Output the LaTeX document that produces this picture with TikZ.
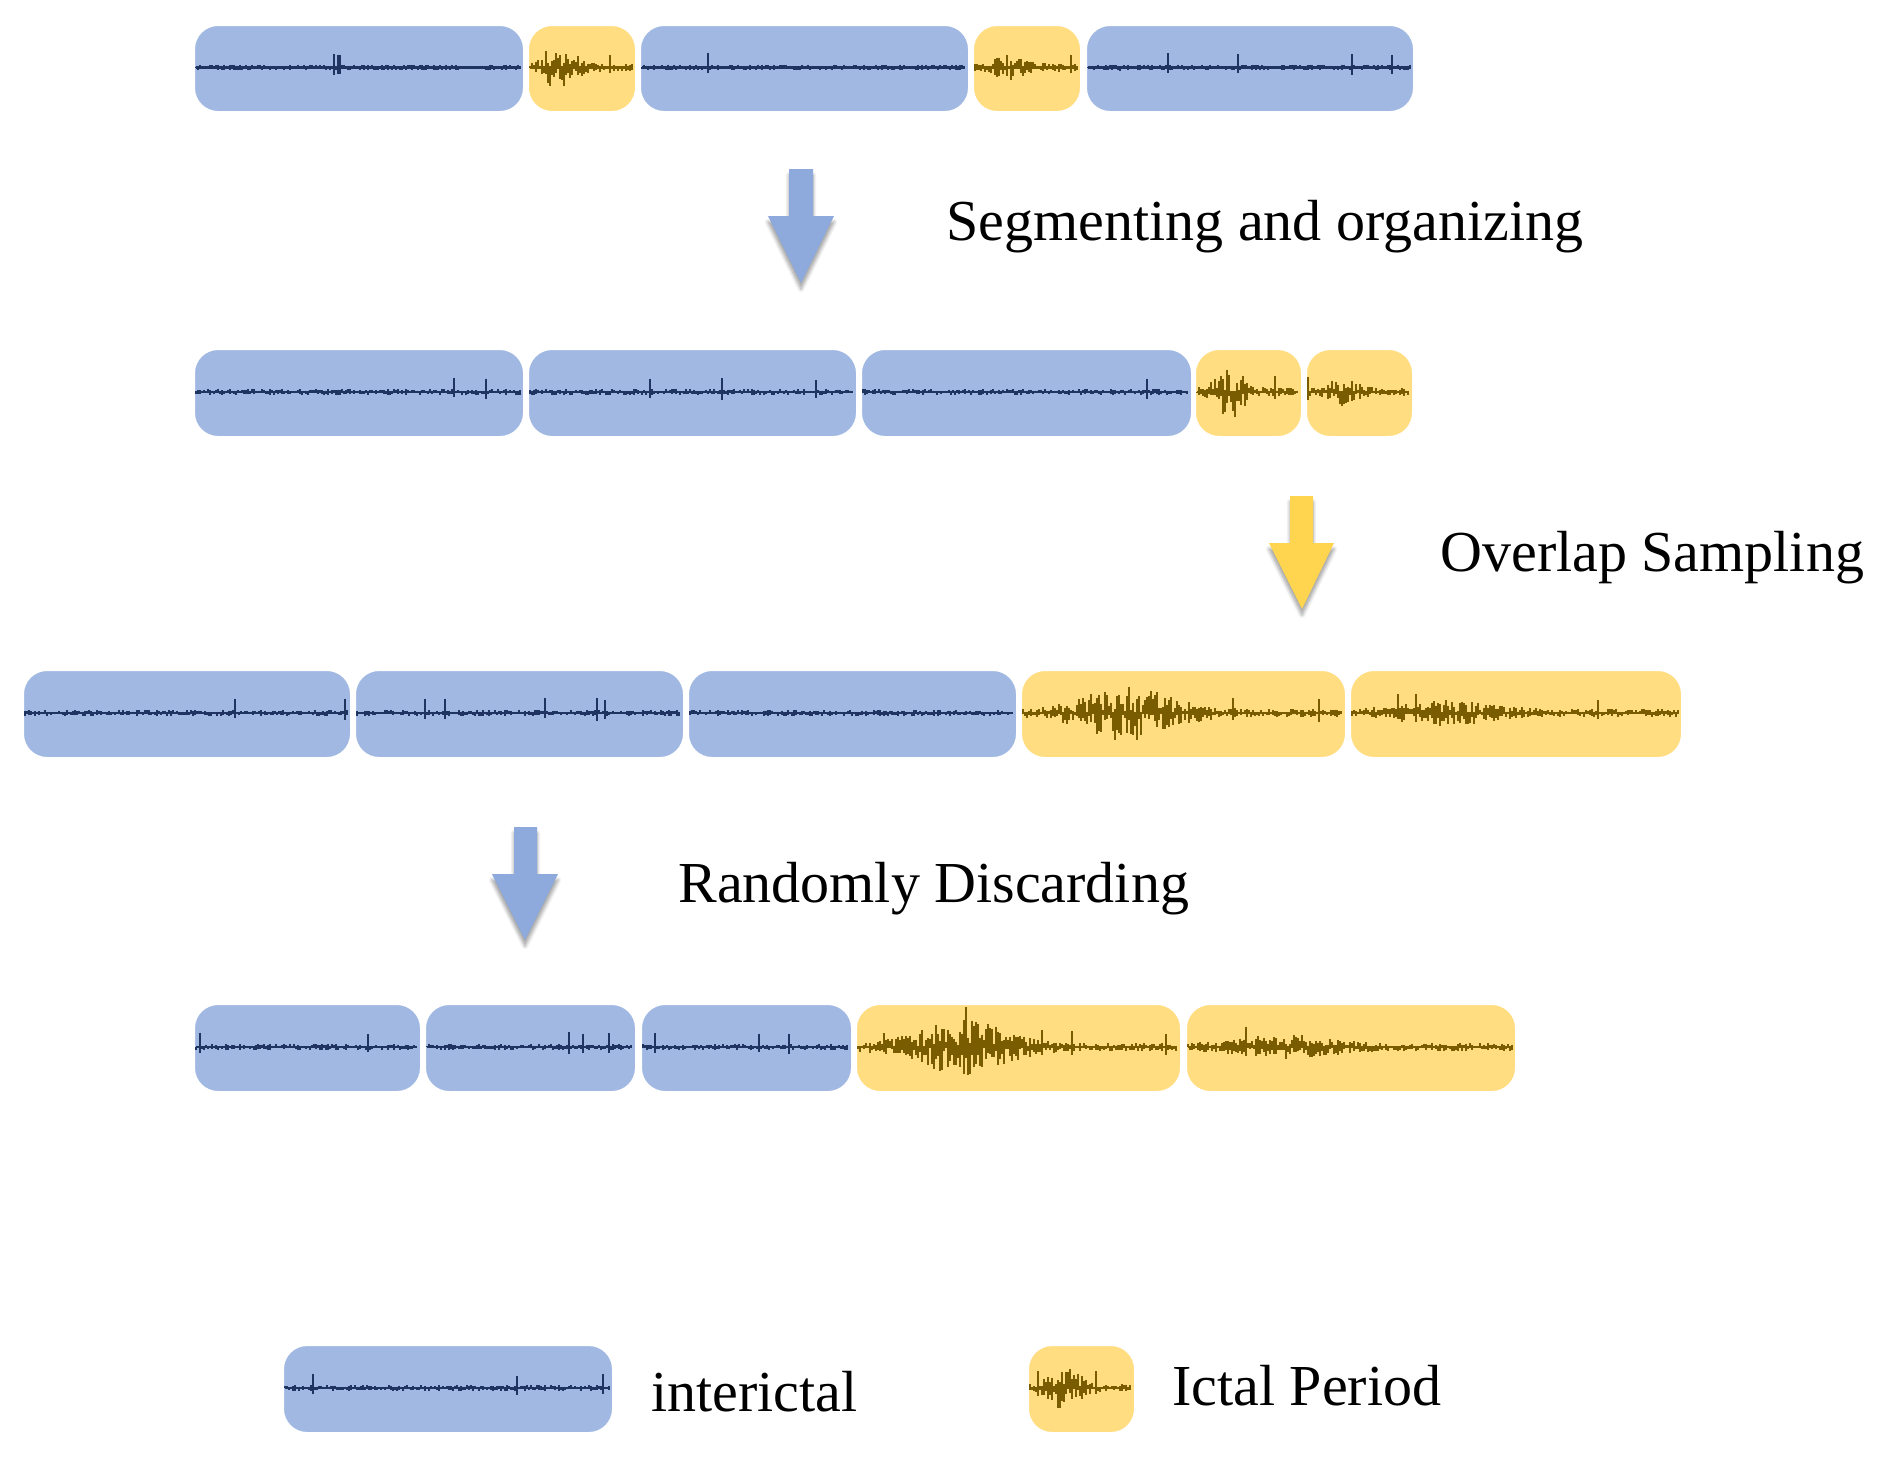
\documentclass[tikz,border=0pt]{standalone}
\usepackage{fontspec}
\setmainfont{Liberation Serif}
\usetikzlibrary{shadows.blur}
\definecolor{bfill}{HTML}{A1B9E2}
\definecolor{yfill}{HTML}{FFDD80}
\definecolor{bwave}{HTML}{1F3460}
\definecolor{ywave}{HTML}{7A5C00}
\definecolor{barrow}{HTML}{8EA9DB}
\definecolor{yarrow}{HTML}{FFD54F}
\tikzset{
 seg/.style={draw=white,line width=1pt,rounded corners=12pt,anchor=north west,inner sep=0pt},
 bseg/.style={seg,fill=bfill},
 yseg/.style={seg,fill=yfill},
 lbl/.style={font=\fontsize{29pt}{34pt}\selectfont,anchor=west,inner sep=0pt},
 arr/.style={blur shadow={shadow xshift=0pt,shadow yshift=-3pt,shadow blur steps=6}}
}
\newcommand\segbox[6]{% name,x1,x2,ytop,ybot,style
 \node[#6,minimum width={(#3-#2)*0.5pt},minimum height={(#5-#4)*0.5pt}] (#1) at (#2,#4) {};}
\newcommand\wave[7]{% x1,x2,yc,col,peakfrac,peakamp,base
 \pgfmathsetmacro\yc{#3}%
 \pgfmathsetmacro\xa{#1+3}\pgfmathsetmacro\xb{#1+5}\pgfmathsetmacro\xe{#2-3}%
 \draw[#4,line width=1.2pt] (\xa,\yc) -- (\xe,\yc);
 \foreach \x in {\xa,\xb,...,\xe}{
   \pgfmathsetmacro\env{#7+#6*exp(-(((\x-#1)/(#2-#1)-#5)^2)/0.03)}%
   \pgfmathsetmacro\sp{rnd>0.985 ? 12 : 0}%
   \pgfmathsetmacro\ya{\yc-\env*rnd-\sp}\pgfmathsetmacro\yb{\yc+\env*rnd+0.4*\sp}%
   \draw[#4,line width=0.6pt] (\x,\ya) -- (\x,\yb);
 }}
\newcommand\bseg[5]{\segbox{#1}{#2}{#3}{#4}{#5}{bseg}\wave{#2}{#3}{(#4+#5)/2}{bwave}{0.5}{0}{3}}
\newcommand\yseg[7]{\segbox{#1}{#2}{#3}{#4}{#5}{yseg}\wave{#2}{#3}{(#4+#5)/2}{ywave}{#6}{#7}{4}}
\begin{document}
\begin{tikzpicture}[x=0.5pt,y=-0.5pt]
\pgfmathsetseed{7}
\useasboundingbox (0,0) rectangle (1890,1457);
% row 1
\bseg{a1}{193}{523}{24}{111}
\yseg{a2}{527}{635}{24}{111}{0.3}{22}
\bseg{a3}{639}{968}{24}{111}
\yseg{a4}{972}{1080}{24}{111}{0.35}{10}
\bseg{a5}{1085}{1413}{24}{111}
% arrow 1
\fill[barrow,arr] (789,169) -- (813,169) -- (813,216) -- (834,216) -- (801,283) -- (768,216) -- (789,216) -- cycle;
\node[lbl] (t1) at (946,227) {Segmenting and organizing};
% row 2
\bseg{b1}{193}{523}{348}{436}
\bseg{b2}{527}{856}{348}{436}
\bseg{b3}{860}{1191}{348}{436}
\yseg{b4}{1194}{1301}{348}{436}{0.35}{22}
\yseg{b5}{1305}{1412}{348}{436}{0.35}{10}
% arrow 2
\fill[yarrow,arr] (1290,496) -- (1313,496) -- (1313,543) -- (1334,543) -- (1302,609) -- (1269,543) -- (1290,543) -- cycle;
\node[lbl] (t2) at (1440,558) {Overlap Sampling};
% row 3
\bseg{c1}{22}{350}{669}{757}
\bseg{c2}{354}{683}{669}{757}
\bseg{c3}{687}{1016}{669}{757}
\yseg{c4}{1020}{1345}{669}{757}{0.33}{24}
\yseg{c5}{1349}{1681}{669}{757}{0.3}{9}
% arrow 3
\fill[barrow,arr] (514,827) -- (537,827) -- (537,874) -- (558,874) -- (525,940) -- (492,874) -- (514,874) -- cycle;
\node[lbl] (t3) at (678,889) {Randomly Discarding};
% row 4
\bseg{d1}{193}{420}{1003}{1091}
\bseg{d2}{424}{635}{1003}{1091}
\bseg{d3}{640}{851}{1003}{1091}
\yseg{d4}{855}{1180}{1003}{1091}{0.33}{24}
\yseg{d5}{1185}{1515}{1003}{1091}{0.3}{9}
% legend
\bseg{l1}{282}{612}{1344}{1432}
\node[lbl] (t4) at (651,1392) {interictal};
\yseg{l2}{1027}{1134}{1344}{1432}{0.35}{20}
\node[lbl] (t5) at (1172,1386) {Ictal Period};
\end{tikzpicture}
\end{document}
